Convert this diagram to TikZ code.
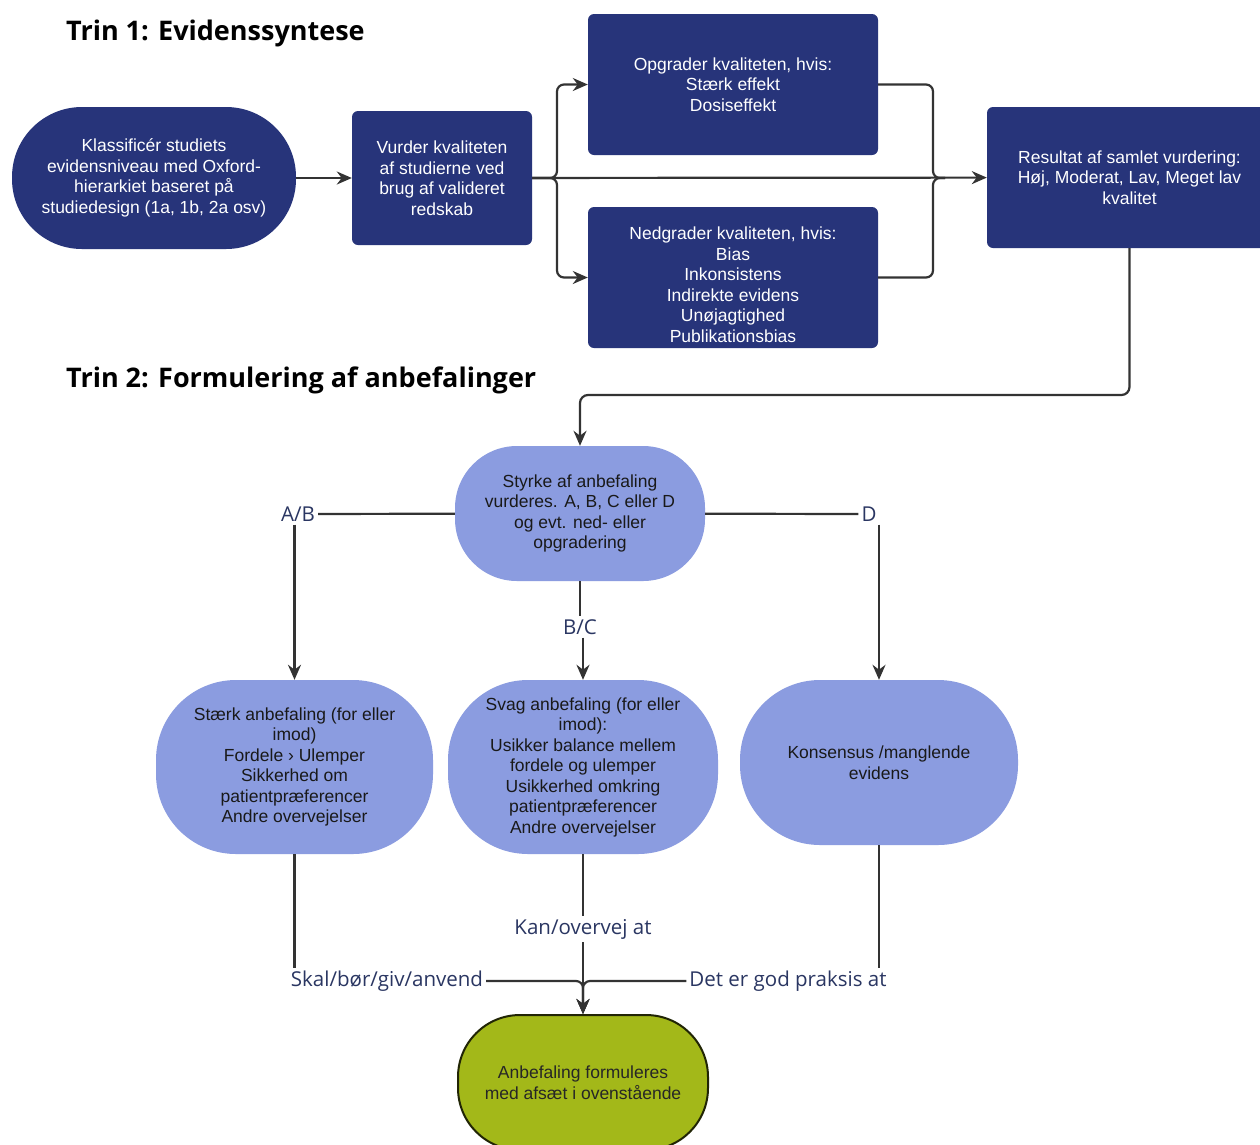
\documentclass[tikz,border=0pt]{standalone}
\usepackage{fontspec}
\setmainfont{Liberation Sans}
\newfontfamily\headfont{Open Sans}
\usetikzlibrary{arrows.meta,positioning}
\definecolor{navy}{RGB}{39,52,122}
\definecolor{lavender}{RGB}{139,156,224}
\definecolor{olive}{RGB}{163,184,25}
\definecolor{labelblue}{RGB}{42,54,98}
\definecolor{linegray}{RGB}{51,51,51}

\begin{document}
\begin{tikzpicture}[x=1pt, y=-1pt,
    boxfont/.style={font=\fontsize{17.5}{20.5}\selectfont, align=center, inner sep=0pt},
    darkbox/.style={boxfont, rectangle, rounded corners=6pt, fill=navy, text=white},
    darkpill/.style={boxfont, rectangle, rounded corners=70pt, fill=navy, text=white},
    lightpill/.style={boxfont, rectangle, fill=lavender, text=black!90},
    greenpill/.style={boxfont, rectangle, rounded corners=62pt, fill=olive, draw=black!80!olive, line width=2pt, text=black!85},
    heading/.style={font=\headfont\bfseries\fontsize{27}{31}\selectfont, inner sep=0pt},
    lbl/.style={font=\headfont\fontsize{20.5}{24}\selectfont, text=labelblue, inner sep=3pt},
    line/.style={draw=linegray, line width=2.2pt},
    arrow/.style={line, ->, >={Stealth[length=15pt, width=13pt]}}]

    \useasboundingbox[fill=white] (0,0) rectangle (1260,1144);

    % Trin 1
    \node[heading, anchor=west] (trin1) at (66,33) {Trin 1: Evidenssyntese};
    \node[darkpill, minimum width=284pt, minimum height=142pt] (klass) at (154,178)
        {Klassificér studiets\\evidensniveau med Oxford-\\hierarkiet baseret på\\studiedesign (1a, 1b, 2a osv)};
    \node[darkbox, minimum width=180pt, minimum height=134pt] (vurder) at (442,178)
        {Vurder kvaliteten\\af studierne ved\\brug af valideret\\redskab};
    \node[darkbox, minimum width=290pt, minimum height=141pt] (opgrad) at (733,84.5)
        {Opgrader kvaliteten, hvis:\\Stærk effekt\\Dosiseffekt};
    \node[darkbox, minimum width=290pt, minimum height=141pt] (nedgrad) at (733,277.5)
        {\rule{0pt}{27pt}Nedgrader kvaliteten, hvis:\\Bias\\Inkonsistens\\Indirekte evidens\\Unøjagtighed\\Publikationsbias};
    \node[darkbox, minimum width=285pt, minimum height=141pt] (result) at (1129.5,177.5)
        {Resultat af samlet vurdering:\\Høj, Moderat, Lav, Meget lav\\kvalitet};

    \coordinate (split) at (557,178);
    \coordinate (merge) at (933,178);
    \coordinate (bend) at (580,395);

    \draw[arrow] (klass) -- (vurder);
    \draw[arrow] (vurder) -- (result);
    \draw[arrow, rounded corners=7pt] (vurder.east) -| (split |- opgrad) -- (opgrad);
    \draw[arrow, rounded corners=7pt] (vurder.east) -| (split |- nedgrad) -- (nedgrad);
    \draw[line, rounded corners=7pt] (opgrad.east) -| (merge) -- ++(12,0);
    \draw[line, rounded corners=7pt] (nedgrad.east) -| (merge) -- ++(12,0);

    % Trin 2
    \node[heading, anchor=west] (trin2) at (66,380) {Trin 2: Formulering af anbefalinger};
    \node[lightpill, rounded corners=62pt, minimum width=250pt, minimum height=135pt] (styrke) at (580,513.5)
        {Styrke af anbefaling\\vurderes. A, B, C eller D\\og evt. ned- eller\\opgradering};
    \draw[arrow, rounded corners=8pt] (result.south) |- (bend) -- (styrke);

    \node[lbl] (ab) at (298,514) {A/B};
    \node[lbl] (d) at (869,514) {D};
    \node[lbl] (bc) at (580,627) {B/C};

    \node[lightpill, rounded corners=80pt, minimum width=277pt, minimum height=174pt] (staerk) at (294.5,767)
        {Stærk anbefaling (for eller\\imod)\\Fordele › Ulemper\\Sikkerhed om\\patientpræferencer\\Andre overvejelser};
    \node[lightpill, rounded corners=80pt, minimum width=270pt, minimum height=174pt] (svag) at (583,767)
        {Svag anbefaling (for eller\\imod):\\Usikker balance mellem\\fordele og ulemper\\Usikkerhed omkring\\patientpræferencer\\Andre overvejelser};
    \node[lightpill, rounded corners=80pt, minimum width=278pt, minimum height=165pt] (konsensus) at (879,762.5)
        {Konsensus /manglende\\evidens};

    \draw[line] (styrke) -- (ab);
    \draw[line] (styrke) -- (d);
    \draw[line] (styrke) -- (bc);
    \draw[arrow] (staerk |- ab.south) -- (staerk);
    \draw[arrow] (svag |- bc.south) -- (svag);
    \draw[arrow] (konsensus |- d.south) -- (konsensus);

    \node[lbl] (skal) at (387,981) {Skal/bør/giv/anvend};
    \node[lbl] (kan) at (583,929) {Kan/overvej at};
    \node[lbl] (det) at (788,981) {Det er god praksis at};

    \node[greenpill, minimum width=250pt, minimum height=135pt] (anbef) at (583,1082.5)
        {Anbefaling formuleres\\med afsæt i ovenstående};

    \draw[line] (staerk) -- (staerk |- skal.north);
    \draw[line] (konsensus) -- (konsensus |- det.north);
    \draw[line] (svag) -- (kan);
    \draw[arrow, rounded corners=7pt] (skal) -| (anbef);
    \draw[arrow, rounded corners=7pt] (det) -| (anbef);
    \draw[arrow] (kan) -- (anbef);
\end{tikzpicture}
\end{document}
